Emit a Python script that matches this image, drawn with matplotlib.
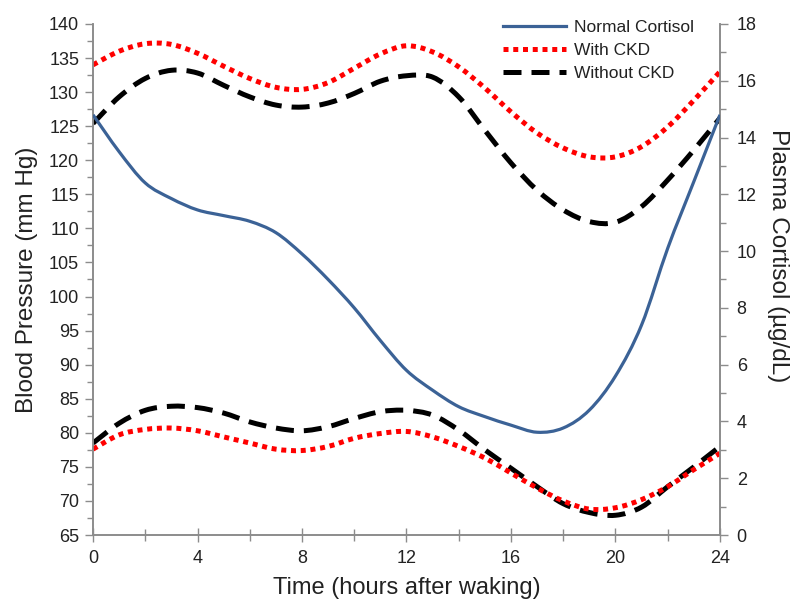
import matplotlib
matplotlib.use("Agg")
import matplotlib.pyplot as plt
from matplotlib.ticker import MultipleLocator
from matplotlib.path import Path
from matplotlib.patches import PathPatch
from matplotlib.lines import Line2D

plt.rcParams['font.family'] = ['Liberation Sans', 'DejaVu Sans']

hours = list(range(25))

cortisol_normal = [14.8, 13.5, 12.4, 11.85, 11.45, 11.25, 11.05, 10.65, 9.9, 9.0,
                   8.0, 6.85, 5.8, 5.1, 4.52, 4.17, 3.87, 3.62, 3.77, 4.4,
                   5.6, 7.4, 10.1, 12.45, 14.8]

sys_ckd = [134.0, 136.0, 137.1, 137.0, 135.7, 133.8, 132.0, 130.7, 130.4, 131.4,
           133.5, 135.6, 136.8, 135.9, 133.7, 130.6, 127.1, 124.0, 121.8, 120.5,
           120.5, 122.0, 124.9, 128.8, 133.0]

sys_nockd = [125.4, 129.3, 132.0, 133.2, 132.8, 131.0, 129.3, 128.1, 127.8, 128.4,
             129.8, 131.6, 132.4, 132.2, 129.3, 124.4, 119.6, 115.6, 112.7, 111.0,
             110.9, 113.2, 117.1, 121.5, 126.2]

dia_nockd = [78.5, 81.4, 83.3, 83.9, 83.7, 82.9, 81.6, 80.7, 80.3, 80.9,
             82.1, 83.1, 83.3, 82.6, 80.4, 77.5, 74.8, 72.1, 69.6, 68.3,
             67.9, 69.1, 72.1, 75.0, 78.0]

dia_ckd = [77.6, 79.7, 80.5, 80.7, 80.3, 79.4, 78.5, 77.6, 77.4, 78.0,
           79.2, 79.9, 80.2, 79.4, 78.0, 76.3, 74.1, 71.9, 70.0, 68.8,
           69.0, 70.2, 72.1, 74.6, 77.0]

x_ticks = [0, 4, 8, 12, 16, 20, 24]
bp_ticks = list(range(65, 141, 5))
cort_ticks = list(range(0, 19, 2))
labels = ['Normal Cortisol', 'With CKD', 'Without CKD']

blue = '#3B6296'
red = '#FF0000'
grey = '#8C8C8C'
txt = '#222222'
dotted = (0, (1.0, 0.95))
dashed = (0, (3.6, 2.0))


def smooth_line(axis, xs, ys, **style):
    """Excel-style smoothed line: cubic Bezier segments through the data points."""
    n = len(xs)
    verts = [(xs[0], ys[0])]
    codes = [Path.MOVETO]
    for i in range(n - 1):
        ip = max(i - 1, 0)
        i2 = min(i + 2, n - 1)
        c1 = (xs[i] + (xs[i + 1] - xs[ip]) / 6.0, ys[i] + (ys[i + 1] - ys[ip]) / 6.0)
        c2 = (xs[i + 1] - (xs[i2] - xs[i]) / 6.0, ys[i + 1] - (ys[i2] - ys[i]) / 6.0)
        verts += [c1, c2, (xs[i + 1], ys[i + 1])]
        codes += [Path.CURVE4] * 3
    patch = PathPatch(Path(verts, codes), fill=False, transform=axis.transData, **style)
    patch.set_capstyle('butt')
    axis.add_patch(patch)
    return patch


fig = plt.figure(figsize=(7.91, 5.99), dpi=100)
ax = fig.add_axes([0.1176, 0.1068, 0.7926, 0.8532])
ax2 = ax.twinx()

ax.set_xlim(0, 24)
ax.set_ylim(65, 140)
ax2.set_ylim(0, 18)

smooth_line(ax, hours, sys_nockd, edgecolor='black', lw=3.6, linestyle=dashed, zorder=2)
smooth_line(ax, hours, dia_nockd, edgecolor='black', lw=3.6, linestyle=dashed, zorder=2)
smooth_line(ax, hours, sys_ckd, edgecolor=red, lw=3.6, linestyle=dotted, zorder=3)
smooth_line(ax, hours, dia_ckd, edgecolor=red, lw=3.6, linestyle=dotted, zorder=3)
smooth_line(ax2, hours, cortisol_normal, edgecolor=blue, lw=2.3, zorder=4)

ax.set_xticks(x_ticks)
ax.xaxis.set_minor_locator(MultipleLocator(2))
ax.set_yticks(bp_ticks)
ax.yaxis.set_minor_locator(MultipleLocator(2.5))
ax2.set_yticks(cort_ticks)
ax2.yaxis.set_minor_locator(MultipleLocator(1))

for a in (ax, ax2):
    a.spines['top'].set_visible(False)
    for s in ('left', 'right', 'bottom'):
        a.spines[s].set_color(grey)
        a.spines[s].set_linewidth(1.2)
    a.patch.set_visible(False)

ax.tick_params(axis='y', which='major', direction='out', length=6, width=1, color=grey,
               labelsize=13, labelcolor=txt, pad=4)
ax.tick_params(axis='y', which='minor', direction='out', length=4, width=1, color=grey)
ax.tick_params(axis='x', which='major', direction='inout', length=10, width=1, color=grey,
               labelsize=13, labelcolor=txt, pad=6)
ax.tick_params(axis='x', which='minor', direction='inout', length=8, width=1, color=grey)
ax2.tick_params(axis='y', which='major', direction='out', length=6, width=1, color=grey,
                labelsize=13, labelcolor=txt, pad=6)
ax2.tick_params(axis='y', which='minor', direction='out', length=4, width=1, color=grey)

ax.set_xlabel('Time (hours after waking)', fontsize=17, color=txt, labelpad=7)
ax.set_ylabel('Blood Pressure (mm Hg)', fontsize=17.5, color=txt, labelpad=8)
ax2.set_ylabel('Plasma Cortisol (µg/dL)', fontsize=17.5, color=txt, rotation=-90,
               va='center')
ax2.yaxis.set_label_coords(1.093, 0.546)

handles = [Line2D([], [], color=blue, lw=2.3),
           Line2D([], [], color=red, lw=3.6, linestyle=dotted, dash_capstyle='butt'),
           Line2D([], [], color='black', lw=3.6, linestyle=dashed, dash_capstyle='butt')]
leg = ax.legend(handles, labels,
                loc='upper left', bbox_to_anchor=(0.654, 1.008), frameon=False,
                fontsize=12.5, handlelength=3.6, handletextpad=0.5, labelspacing=0.45,
                borderpad=0, borderaxespad=0)
for t in leg.get_texts():
    t.set_color(txt)

fig.savefig('out.png', dpi=100)
